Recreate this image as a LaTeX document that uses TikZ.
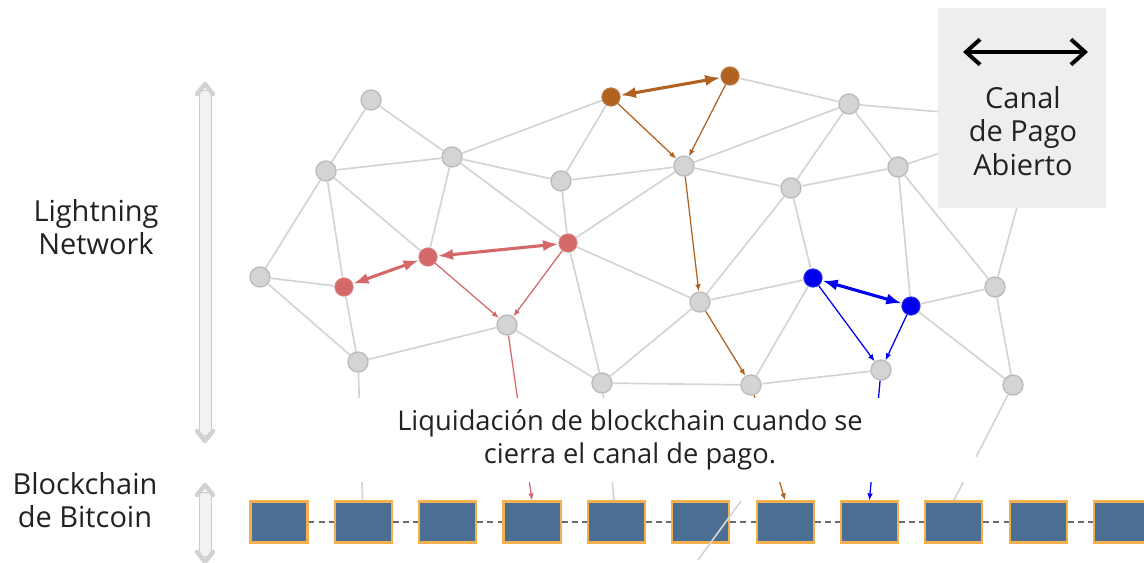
\documentclass[tikz,border=0pt]{standalone}
\usepackage{fontspec}
\setmainfont{Open Sans}
\usepackage{tikz}
\usetikzlibrary{arrows.meta}
\definecolor{peergray}{RGB}{212,212,212}
\definecolor{peerrim}{RGB}{188,188,188}
\definecolor{linkgray}{RGB}{212,212,212}
\definecolor{chanbrown}{RGB}{178,98,32}
\definecolor{chanred}{RGB}{213,104,104}
\definecolor{chanblue}{RGB}{0,0,238}
\definecolor{blockfill}{RGB}{74,111,146}
\definecolor{blockrim}{RGB}{244,176,80}
\definecolor{chaingray}{RGB}{105,105,105}
\definecolor{legendbg}{RGB}{238,238,238}
\definecolor{inkgray}{RGB}{34,34,34}

\begin{document}
\begin{tikzpicture}[x=0.025cm,y=-0.025cm,
    peer/.style={circle,draw=peerrim,fill=peergray,line width=1pt,
                 minimum size=0.5cm,inner sep=0pt},
    hot/.style={circle,fill=#1,draw=#1!80!white,line width=0.6pt,
                minimum size=0.46cm,inner sep=0pt},
    link/.style={draw=linkgray,line width=1.2pt},
    pay/.style={draw=#1,line width=0.9pt,-{Latex[length=5pt,width=4pt]}},
    chan/.style={draw=#1,line width=2.2pt,
                 {Latex[length=11pt,width=8pt]}-{Latex[length=11pt,width=8pt]}},
    block/.style={draw=blockrim,fill=blockfill,line width=1.5pt,
                  minimum width=1.425cm,minimum height=1.025cm,inner sep=0pt},
    chainlink/.style={draw=chaingray,line width=1.4pt,dash pattern=on 4.2pt off 3pt},
    txt/.style={font=\fontsize{20.6}{23.8}\selectfont,text=inkgray,align=center},
    rail/.style={draw=gray!40,fill=gray!10,line width=0.6pt},
    railtip/.style={draw=gray!35,line width=3.2pt,line cap=round,line join=round}]
  \useasboundingbox (0,0) rectangle (1144,563);
  \clip (0,0) rectangle (1144,563);

  % lightning network peers
  \node[peer] (g1)  at (371,100) {};
  \node[peer] (g2)  at (326,171) {};
  \node[peer] (g3)  at (452,157) {};
  \node[peer] (g4)  at (561,181) {};
  \node[peer] (g5)  at (684,166) {};
  \node[peer] (g6)  at (849,104) {};
  \node[peer] (g7)  at (791,188) {};
  \node[peer] (g8)  at (898,167) {};
  \node[peer] (g9)  at (260,277) {};
  \node[peer] (g10) at (507,325) {};
  \node[peer] (g11) at (358,362) {};
  \node[peer] (g12) at (700,302) {};
  \node[peer] (g13) at (995,287) {};
  \node[peer] (g14) at (602,383) {};
  \node[peer] (g15) at (751,385) {};
  \node[peer] (g16) at (881,370) {};
  \node[peer] (g17) at (1013,385) {};
  \node[hot=chanbrown] (br1) at (611,97) {};
  \node[hot=chanbrown] (br2) at (730,76) {};
  \node[hot=chanred]   (rd1) at (344,287) {};
  \node[hot=chanred]   (rd2) at (428,257) {};
  \node[hot=chanred]   (rd3) at (568,243) {};
  \node[hot=chanblue]  (bl1) at (813,278) {};
  \node[hot=chanblue]  (bl2) at (911,306) {};

  % blockchain
  \foreach \i in {1,...,11}
    \node[block] (b\i) at ({279+(\i-1)*84.35},522) {};
  \foreach \i [count=\j from 2] in {1,...,10}
    \draw[chainlink] (b\i) -- (b\j);

  % ends of links that leave the picture
  \coordinate (h1) at (1000,117);
  \coordinate (h2) at (1000,133);
  \coordinate (h3) at (1030,160);
  \coordinate (s1) at (741,501);
  \coordinate (s2) at (698,560);

  \foreach \a/\b in {g1/g2,g1/g3,g2/g3,g3/br1,g3/g4,g3/rd2,g3/rd3,g2/rd2,
      g2/g9,g2/rd1,g9/rd1,g9/g11,rd1/g11,g11/g10,g10/g14,rd3/g4,rd3/g14,
      rd3/g5,rd3/g12,br1/g4,g4/g5,g14/g15,br2/g6,g5/g6,g5/g7,g7/g6,g6/g8,
      g7/g8,g7/g12,g7/bl1,g8/bl2,g8/g13,g12/bl1,g12/g14,bl1/g15,bl2/g13,
      bl2/g17,g13/g17,g15/g16,g6/h1,g8/h2,g13/h3,g11/b2,g14/b5,g17/b9.north,s1/s2}
    \draw[link] (\a) -- (\b);

  % open payment channels
  \draw[chan=chanbrown] (br1) -- (br2);
  \draw[pay=chanbrown] (br1) -- (g5);
  \draw[pay=chanbrown] (br2) -- (g5);
  \draw[pay=chanbrown] (g5) -- (g12);
  \draw[pay=chanbrown] (g12) -- (g15);
  \draw[pay=chanbrown] (g15) -- (b7.north);
  \draw[chan=chanred] (rd1) -- (rd2);
  \draw[chan=chanred] (rd2) -- (rd3);
  \draw[pay=chanred] (rd2) -- (g10);
  \draw[pay=chanred] (rd3) -- (g10);
  \draw[pay=chanred] (g10) -- (b4.north);
  \draw[chan=chanblue] (bl1) -- (bl2);
  \draw[pay=chanblue] (bl1) -- (g16);
  \draw[pay=chanblue] (bl2) -- (g16);
  \draw[pay=chanblue] (g16) -- (b8.north);

  \fill[white] (0,457) rectangle (1144,482);
  \node[txt,font=\fontsize{19.4}{23.8}\selectfont,fill=white,minimum width=14cm,
        minimum height=2.1cm,inner sep=0pt]
    (settle) at (630,440) {Liquidación de blockchain cuando se\\cierra el canal de pago.};

  % legend
  \node[fill=legendbg,minimum width=4.2cm,minimum height=5cm,inner sep=0pt]
    (legend) at (1022,108) {};
  \coordinate (la) at (963,52);
  \coordinate (lb) at (1088,52);
  \draw[line width=2.8pt,{Straight Barb[length=10pt,width=18pt]}-{Straight Barb[length=10pt,width=18pt]}]
    (la) -- (lb);
  \node[txt] (legtext) at (1023,131) {Canal\\de Pago\\Abierto};

  % side labels
  \node[txt] (lnlabel) at (96,227) {Lightning\\Network};
  \node[txt] (bclabel) at (85,500) {Blockchain\\de Bitcoin};
  \draw[rail] (199,90) rectangle (211,435);
  \draw[railtip] (197,94) -- (205,84) -- (213,94);
  \draw[railtip] (197,431) -- (205,441) -- (213,431);
  \draw[rail] (199,492) rectangle (211,556);
  \draw[railtip] (197,495) -- (205,485) -- (213,495);
  \draw[railtip] (197,552) -- (205,562) -- (213,552);
\end{tikzpicture}
\end{document}
